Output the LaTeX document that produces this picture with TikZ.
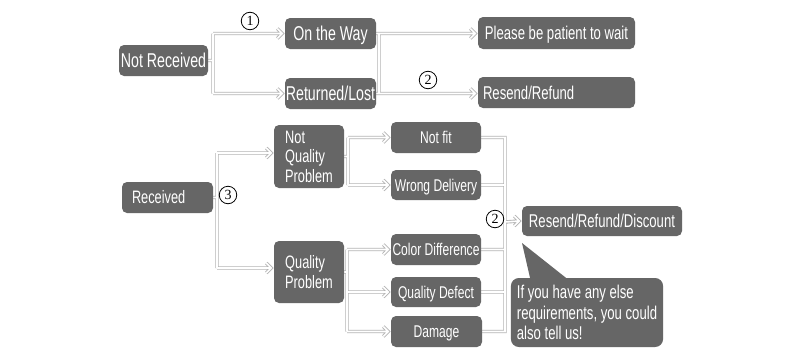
\documentclass[tikz,border=0pt]{standalone}
\usepackage{fontspec}
\usetikzlibrary{backgrounds}
\setmainfont[FakeStretch=0.71]{Liberation Sans}
\newfontfamily\numfont{Liberation Serif}
\definecolor{boxgray}{RGB}{102,102,102}
\definecolor{linegray}{RGB}{180,180,180}
\newcommand\FBig{\fontsize{20}{22}\selectfont}
\newcommand\FMid{\fontsize{18.5}{20.5}\selectfont}
\newcommand\FRec{\fontsize{18}{19.5}\selectfont}
\newcommand\FSm{\fontsize{17}{19}\selectfont}
\begin{document}
\begin{tikzpicture}[x=1pt,y=-1pt,
  bx/.style={fill=boxgray, rounded corners=5pt, text=white, inner ysep=0pt, inner xsep=0pt, align=center},
  big/.style={font=\FBig, text height=14.3pt, text depth=0pt},
  mid/.style={font=\FMid, text height=13.2pt, text depth=0pt},
  sm/.style={font=\FSm, text height=12.2pt, text depth=0pt},
  conn/.style={draw=linegray, line width=0.9pt, double=white, double distance=1.6pt},
  ch/.style={insert path={++(-5,-5) -- ++(5,5) -- ++(-5,5)}},
  num/.style={circle, draw=black, line width=0.8pt, inner sep=0pt, minimum size=17.5pt, font=\numfont\fontsize{14}{14}\selectfont}]
\begin{pgfonlayer}{background}
\fill[white] (0,0) rectangle (800,351);
\end{pgfonlayer}
\useasboundingbox (0,0) rectangle (800,351);

% junction coordinates
\coordinate (j1) at (213,60.5);
\coordinate (j2) at (379,60);
\coordinate (j3) at (217,197.5);
\coordinate (j4) at (348,160);
\coordinate (j5) at (347,290);
\coordinate (V) at (505,222);
\coordinate (tip) at (522,243);

% boxes
\node[bx, big, minimum width=89pt, minimum height=31pt] (NR) at (163.5,60.5) {Not Received};
\node[bx, big, minimum width=91pt, minimum height=31pt] (OW) at (330.5,33.5) {On the Way};
\node[bx, big, minimum width=91pt, minimum height=31pt] (RL) at (330.5,93.5) {Returned/Lost};
\node[bx, mid, minimum width=157pt, minimum height=32pt] (PB) at (556.5,33) {Please be patient to wait};
\node[bx, mid, minimum width=157pt, minimum height=31pt, text width=147pt, inner xsep=5pt, align=left] (RR) at (556.5,92.5) {Resend/Refund};
\node[bx, font=\FRec, text height=12.9pt, text depth=0pt, minimum width=91pt, minimum height=31pt, text width=71pt, inner xsep=10pt, align=left] (RC) at (167.5,197.5) {Received};
\node[bx, font=\FRec, align=left, minimum width=70pt, minimum height=63pt] (NQ) at (309,156.5) {Not\\Quality\\Problem};
\node[bx, font=\FRec, align=left, minimum width=70pt, minimum height=62pt] (QP) at (309,272) {Quality\\Problem};
\node[bx, sm, minimum width=90pt, minimum height=31pt] (NF) at (436,137.5) {Not fit};
\node[bx, sm, minimum width=90pt, minimum height=30pt] (WD) at (436,185) {Wrong Delivery};
\node[bx, sm, minimum width=90pt, minimum height=31pt] (CD) at (436,249.5) {Color Difference};
\node[bx, sm, minimum width=90pt, minimum height=30pt] (QD) at (436,292) {Quality Defect};
\node[bx, sm, minimum width=91pt, minimum height=31pt] (DM) at (436.5,331.5) {Damage};
\node[bx, mid, minimum width=160pt, minimum height=30pt] (RD) at (602,221) {Resend/Refund/Discount};

% speech bubble
\node[bx, font=\FMid, rounded corners=8pt, align=left, inner xsep=6pt, minimum width=152pt, minimum height=69pt] (BUB) at (587,312.5) {If you have any else\\requirements, you could\\also tell us!};
\fill[boxgray] (tip) -- ([xshift=20pt,yshift=-3pt]BUB.north west) -- ([xshift=59pt,yshift=-3pt]BUB.north west) -- cycle;

% circled numbers
\node[num] (c1) at (250,21) {1};
\node[num] (c2) at (428,80) {2};
\node[num] (c3) at (228,195) {3};
\node[num] (c4) at (495,219) {2};

% connectors
\begin{pgfonlayer}{background}
\draw[conn]
  (NR.east) -- (j1)
  (j1 |- OW.west) -- (j1 |- RL.west)
  (j1 |- OW.west) -- ([xshift=-2.5pt]OW.west) [ch]
  (j1 |- RL.west) -- ([xshift=-2.5pt]RL.west) [ch]
  (OW.east) -- ([xshift=-2.5pt]PB.west |- OW.east) [ch]
  (RL.east) -- ([xshift=-2.5pt]RR.west |- RL.east) [ch]
  (j2 |- OW.east) -- (j2 |- RL.east)
  (RC.east) -- (j3)
  (j3 |- 0,153) -- (j3 |- 0,268)
  (j3 |- 0,153) -- ([xshift=-2.5pt]NQ.west |- 0,153) [ch]
  (j3 |- 0,268) -- ([xshift=-2.5pt]QP.west |- 0,268) [ch]
  (NQ.east) -- (NQ.east -| j4)
  (j4 |- NF.west) -- (j4 |- WD.west)
  (j4 |- NF.west) -- ([xshift=-2.5pt]NF.west) [ch]
  (j4 |- WD.west) -- ([xshift=-2.5pt]WD.west) [ch]
  (QP.east) -- (QP.east -| j5)
  (j5 |- CD.west) -- (j5 |- DM.west)
  (j5 |- CD.west) -- ([xshift=-2.5pt]CD.west) [ch]
  (j5 |- QD.west) -- ([xshift=-2.5pt]QD.west) [ch]
  (j5 |- DM.west) -- ([xshift=-2.5pt]DM.west) [ch]
  (NF.east) -- (NF.east -| V) -- (DM.east -| V) -- (DM.east)
  (WD.east) -- (WD.east -| V)
  (CD.east) -- (CD.east -| V)
  (QD.east) -- (QD.east -| V)
  (V) -- ([xshift=-2.5pt]RD.west) [ch];
\end{pgfonlayer}
\end{tikzpicture}
\end{document}
